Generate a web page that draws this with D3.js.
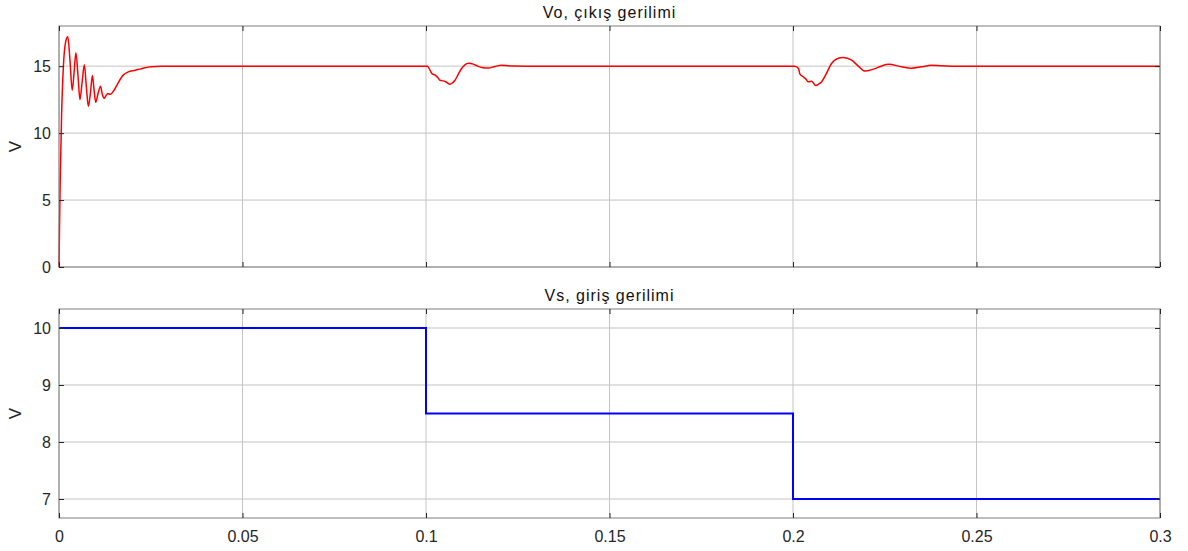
<!DOCTYPE html>
<html><head><meta charset="utf-8">
<script src="https://cdn.jsdelivr.net/npm/d3@7"></script>
<style>body{margin:0;background:#fff}text{font-family:"Liberation Sans",Arial,sans-serif}</style>
</head><body><svg id="c" width="1188" height="551"></svg>
<script>
const xTicks = [0, 0.05, 0.1, 0.15, 0.2, 0.25, 0.3];
const xTickLabels = ["0", "0.05", "0.1", "0.15", "0.2", "0.25", "0.3"];
const voTicks = [0, 5, 10, 15];
const vsTicks = [7, 8, 9, 10];
const voTitle = "Vo, çıkış gerilimi";
const vsTitle = "Vs, giriş gerilimi";
const yLabel = "V";
// Vo (output voltage) samples: time (s)
const voTime = [0, 0.0003, 0.0007, 0.0012, 0.0018, 0.0024, 0.0030, 0.0036, 0.0041, 0.0046, 0.0052, 0.0057, 0.0063, 0.0069, 0.0075, 0.0080, 0.0086, 0.0091, 0.0096, 0.0100, 0.0106, 0.0113, 0.0118, 0.0123, 0.0128, 0.0133, 0.0140, 0.0150, 0.0160, 0.0175, 0.0189, 0.0205, 0.0220, 0.0235, 0.0250, 0.0280, 0.05, 0.0995, 0.1004,
  0.1010, 0.1016, 0.1025, 0.1032, 0.1038, 0.1047, 0.1056, 0.1065, 0.1072, 0.1079, 0.1088, 0.1097, 0.1106, 0.1115, 0.1129, 0.1141, 0.1152, 0.1170, 0.1188, 0.1206, 0.1240, 0.1300, 0.1995, 0.2005,
  0.2015, 0.2019, 0.2028, 0.2035, 0.2041, 0.2051, 0.2062, 0.2070, 0.2078, 0.2090, 0.2105, 0.2120, 0.2137, 0.2160, 0.2178, 0.2196, 0.2219, 0.2240, 0.2260, 0.2296, 0.2323, 0.2350, 0.2378, 0.2430, 0.2500, 0.3];
const voValue = [0, 6.0, 11.3, 15.0, 16.8, 17.2, 15.4, 13.2, 14.5, 16.0, 14.2, 12.5, 13.8, 15.1, 13.3, 12.0, 13.1, 14.3, 13.1, 12.3, 12.9, 13.5, 12.9, 12.6, 12.8, 12.95, 12.9, 13.2, 13.7, 14.33, 14.57, 14.68, 14.78, 14.88, 14.95, 15.0, 15.0, 15.0, 15.0,
  14.75, 14.45, 14.33, 14.15, 13.95, 13.9, 13.8, 13.65, 13.75, 13.95, 14.4, 14.83, 15.1, 15.22, 15.15, 15.0, 14.9, 14.86, 14.98, 15.06, 15.02, 15.0, 15.0, 15.0,
  14.83, 14.4, 14.2, 14.05, 13.83, 13.88, 13.55, 13.65, 13.83, 14.4, 15.2, 15.55, 15.65, 15.45, 15.0, 14.63, 14.78, 15.0, 15.15, 14.95, 14.85, 14.95, 15.07, 15.0, 15.0, 15.0];
// Vs (input voltage) step samples
const vsTime = [0, 0.1, 0.1, 0.2, 0.2, 0.3];
const vsValue = [10, 10, 8.5, 8.5, 7, 7];

const svg = d3.select("#c");
const L = 59, R = 1160;
const x = d3.scaleLinear().domain([0, 0.3]).range([L, R]);

function panel(top, bottom, yDomain, yTicks, title, time, vals, color, width) {
  const y = d3.scaleLinear().domain(yDomain).range([bottom, top]);
  const g = svg.append("g");
  // grid
  g.selectAll(".gx").data(xTicks).enter().append("line")
    .attr("x1", d => x(d)).attr("x2", d => x(d)).attr("y1", top).attr("y2", bottom)
    .attr("stroke", "#c4c4c4").attr("stroke-width", 1);
  g.selectAll(".gy").data(yTicks).enter().append("line")
    .attr("x1", L).attr("x2", R).attr("y1", d => y(d)).attr("y2", d => y(d))
    .attr("stroke", "#c4c4c4").attr("stroke-width", 1);
  // data line
  const line = d3.line().x((d, i) => x(time[i])).y(d => y(d));
  if (color === "#ff0000") line.curve(d3.curveMonotoneX);
  g.append("path").datum(vals).attr("d", line).attr("fill", "none")
    .attr("stroke", color).attr("stroke-width", width);
  // frame
  g.append("rect").attr("x", L).attr("y", top).attr("width", R - L).attr("height", bottom - top)
    .attr("fill", "none").attr("stroke", "#7f7f7f").attr("stroke-width", 1);
  // axes (ticks inward)
  const ax = d3.axisBottom(x).tickValues(xTicks).tickSize(-5).tickPadding(13)
    .tickFormat((d, i) => xTickLabels[i]);
  const axT = d3.axisTop(x).tickValues(xTicks).tickSize(-5).tickFormat("");
  const ay = d3.axisLeft(y).tickValues(yTicks).tickSize(-5).tickPadding(8).tickFormat(d3.format("d"));
  const ayR = d3.axisRight(y).tickValues(yTicks).tickSize(-5).tickFormat("");
  const gb = g.append("g").attr("transform", `translate(0,${bottom})`).call(ax);
  if (bottom < 300) gb.selectAll("text").remove();
  g.append("g").attr("transform", `translate(0,${top})`).call(axT);
  g.append("g").attr("transform", `translate(${L},0)`).call(ay);
  g.append("g").attr("transform", `translate(${R},0)`).call(ayR);
  g.selectAll(".domain").remove();
  g.selectAll(".tick line").attr("stroke", "#262626");
  g.selectAll(".tick text").attr("fill", "#262626").attr("font-size", 16)
    .attr("font-family", '"Liberation Sans", Arial, sans-serif');
  // title
  g.append("text").attr("x", (L + R) / 2).attr("y", top - 8).attr("text-anchor", "middle")
    .attr("fill", "#111").attr("font-size", 16).attr("letter-spacing", "1px").text(title);
  // y label
  g.append("text").attr("transform", `translate(21,${(top + bottom) / 2}) rotate(-90)`)
    .attr("text-anchor", "middle").attr("fill", "#262626").attr("font-size", 17).text(yLabel);
}

panel(26, 267, [0, 18], voTicks, voTitle, voTime, voValue, "#ff0000", 1.5);
panel(309, 518, [6.6667, 10.3333], vsTicks, vsTitle, vsTime, vsValue, "#0000ff", 2);
</script></body></html>
